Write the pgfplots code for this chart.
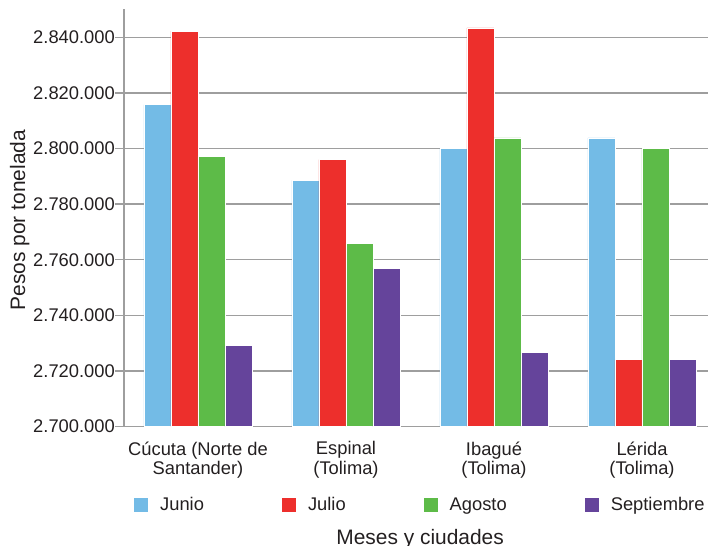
\documentclass[border=0pt]{standalone}
\usepackage{fontspec}
\setmainfont{Liberation Sans}
\usepackage{pgfplots}
\pgfplotsset{compat=1.18}
\definecolor{cjun}{RGB}{115,187,230}
\definecolor{cjul}{RGB}{237,47,44}
\definecolor{cago}{RGB}{93,187,72}
\definecolor{csep}{RGB}{101,68,155}
\definecolor{gridgray}{RGB}{158,158,158}
\definecolor{txt}{RGB}{35,31,32}
\begin{document}
\begin{tikzpicture}
\begin{axis}[
  name=ax, scale only axis, width=584bp, height=417bp,
  xmin=-0.5, xmax=3.446, ymin=2700000, ymax=2850000,
  axis x line*=bottom, axis y line*=left,
  axis line style={draw=gridgray, line width=1.3bp, -},
  ybar=0pt, bar width=27bp,
  ymajorgrids, grid style={draw=gridgray, line width=1.3bp},
  xtick={0,1,2,3}, xtick style={draw=none},
  xticklabels={{Cúcuta (Norte de\\Santander)},{Espinal\\(Tolima)},{Ibagué\\(Tolima)},{Lérida\\(Tolima)}},
  xticklabel style={align=center, font=\fontsize{18.4}{19.5}\selectfont, text=txt, anchor=north, inner sep=0pt, yshift=-6bp},
  ytick={2700000,2720000,2740000,2760000,2780000,2800000,2820000,2840000},
  ytick align=outside, major tick length=9bp, ytick style={draw=gridgray, line width=1.3bp},
  scaled y ticks=false,
  yticklabel style={/pgf/number format/.cd, fixed, precision=0, 1000 sep={.}, assume math mode=true, /tikz/.cd, font=\fontsize{18.4}{20}\selectfont, text=txt, inner sep=0pt, anchor=east},
  ylabel={Pesos por tonelada},
  ylabel style={at={(axis description cs:-0.1695,0.495)}, anchor=base, font=\fontsize{21}{24}\selectfont, text=txt},
  xlabel={Meses y ciudades},
  xlabel style={at={(axis description cs:0.507,-0.2818)}, anchor=base, font=\fontsize{21}{24}\selectfont, text=txt},
  legend columns=4,
  legend style={at={(axis description cs:0.0171,-0.1875)}, anchor=west, draw=none, fill=none,
    font=\fontsize{18.4}{20}\selectfont, text=txt, inner sep=0pt,
    nodes={inner sep=0pt},
    /tikz/every odd column/.append style={column sep=12bp},
    /tikz/every even column/.append style={column sep=78bp}},
  legend image code/.code={\fill[#1, draw=none] (0bp,-7bp) rectangle (14bp,6.4bp);},
]
\addplot[fill=cjun, draw=white, line width=0.6bp] coordinates {(0,2815800) (1,2788500) (2,2800000) (3,2803800)};
\addplot[fill=cjul, draw=white, line width=0.6bp] coordinates {(0,2842200) (1,2796000) (2,2843400) (3,2724000)};
\addplot[fill=cago, draw=white, line width=0.6bp] coordinates {(0,2797300) (1,2766000) (2,2803800) (3,2800000)};
\addplot[fill=csep, draw=white, line width=0.6bp] coordinates {(0,2729100) (1,2757000) (2,2726700) (3,2724000)};
\legend{Junio,Julio,Agosto,Septiembre}
\end{axis}
\pgfresetboundingbox
\path[use as bounding box] (ax.south west) ++(-124bp,-119.5bp) rectangle ++(708bp,546bp);
\end{tikzpicture}
\end{document}
